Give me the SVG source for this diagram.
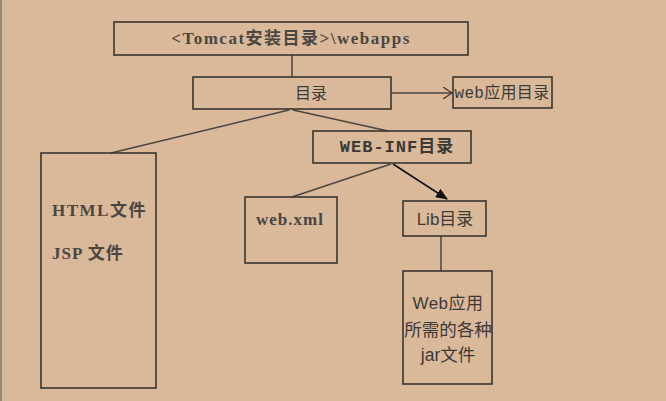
<svg xmlns="http://www.w3.org/2000/svg" width="666" height="401" viewBox="0 0 666 401">
<defs>
<style>
.box{fill:none;stroke:#3a3530;stroke-width:1.6}
.ln{fill:none;stroke:#4a4540;stroke-width:1.5}
.serif{font-family:"Liberation Serif","Noto Sans CJK SC",serif;fill:#4a4642}
.mono{font-family:"Liberation Mono","Noto Sans CJK SC",monospace;fill:#3d3a36}
.sans{font-family:"Liberation Sans","Noto Sans CJK SC",sans-serif;fill:#3d3a36}
</style>
<marker id="open" markerWidth="10" markerHeight="12" refX="9" refY="6" orient="auto" markerUnits="userSpaceOnUse">
<path d="M0,0 L9,6 L0,12" fill="none" stroke="#3a3530" stroke-width="1.3"/>
</marker>
<marker id="solid" markerWidth="12" markerHeight="10" refX="11" refY="5" orient="auto" markerUnits="userSpaceOnUse">
<path d="M0,0 L12,5 L0,10 Z" fill="#111"/>
</marker>
</defs>
<rect width="666" height="401" fill="#DAB99B"/>
<rect x="0" y="0" width="2" height="401" fill="#9a8a7a"/>
<g id="connectors">
<line class="ln" x1="292" y1="55" x2="292" y2="77"/>
<line class="ln" x1="391" y1="93" x2="452" y2="93" marker-end="url(#open)"/>
<line class="ln" x1="289" y1="110" x2="111" y2="153"/>
<line class="ln" x1="293" y1="110" x2="388" y2="131"/>
<line class="ln" x1="391" y1="164" x2="292" y2="197"/>
<line x1="393" y1="164" x2="447" y2="199" stroke="#111" stroke-width="1.6" marker-end="url(#solid)"/>
<line class="ln" x1="441" y1="236" x2="441" y2="271"/>
</g>
<g id="webapps">
<rect class="box" x="114" y="22" width="354" height="33"/>
<text class="serif" x="291" y="44" font-size="17" font-weight="bold" letter-spacing="1.5" text-anchor="middle">&lt;Tomcat安装目录&gt;\webapps</text>
</g>
<g id="dir">
<rect class="box" x="193" y="77" width="198" height="32"/>
<text class="sans" x="311" y="99" font-size="16" text-anchor="middle">目录</text>
</g>
<g id="webappdir">
<rect class="box" x="453" y="77" width="99" height="31"/>
<text class="mono" x="502" y="98" font-size="16" letter-spacing="0.3" text-anchor="middle">web应用目录</text>
</g>
<g id="webinf">
<rect class="box" x="313" y="131" width="158" height="32"/>
<text class="mono" x="397" y="152" font-size="17" font-weight="bold" letter-spacing="1" text-anchor="middle">WEB-INF目录</text>
</g>
<g id="html">
<rect class="box" x="41" y="153" width="115" height="235"/>
<text class="serif" x="52" y="216" font-size="17" font-weight="bold" letter-spacing="1.5">HTML文件</text>
<text class="serif" x="52" y="259" font-size="17" font-weight="bold" letter-spacing="1">JSP 文件</text>
</g>
<g id="webxml">
<rect class="box" x="245" y="197" width="92" height="66"/>
<text class="serif" x="290" y="225" font-size="17" font-weight="bold" letter-spacing="1" text-anchor="middle">web.xml</text>
</g>
<g id="lib">
<rect class="box" x="403" y="201" width="83" height="35"/>
<text class="sans" x="445" y="225" font-size="17" text-anchor="middle">Lib目录</text>
</g>
<g id="jars">
<rect class="box" x="403" y="271" width="89" height="113"/>
<text class="sans" x="448" y="309" font-size="17" letter-spacing="0.5" text-anchor="middle">Web应用</text>
<text class="sans" x="448" y="336" font-size="17.5" text-anchor="middle">所需的各种</text>
<text class="sans" x="448" y="361" font-size="17.5" text-anchor="middle">jar文件</text>
</g>
</svg>
